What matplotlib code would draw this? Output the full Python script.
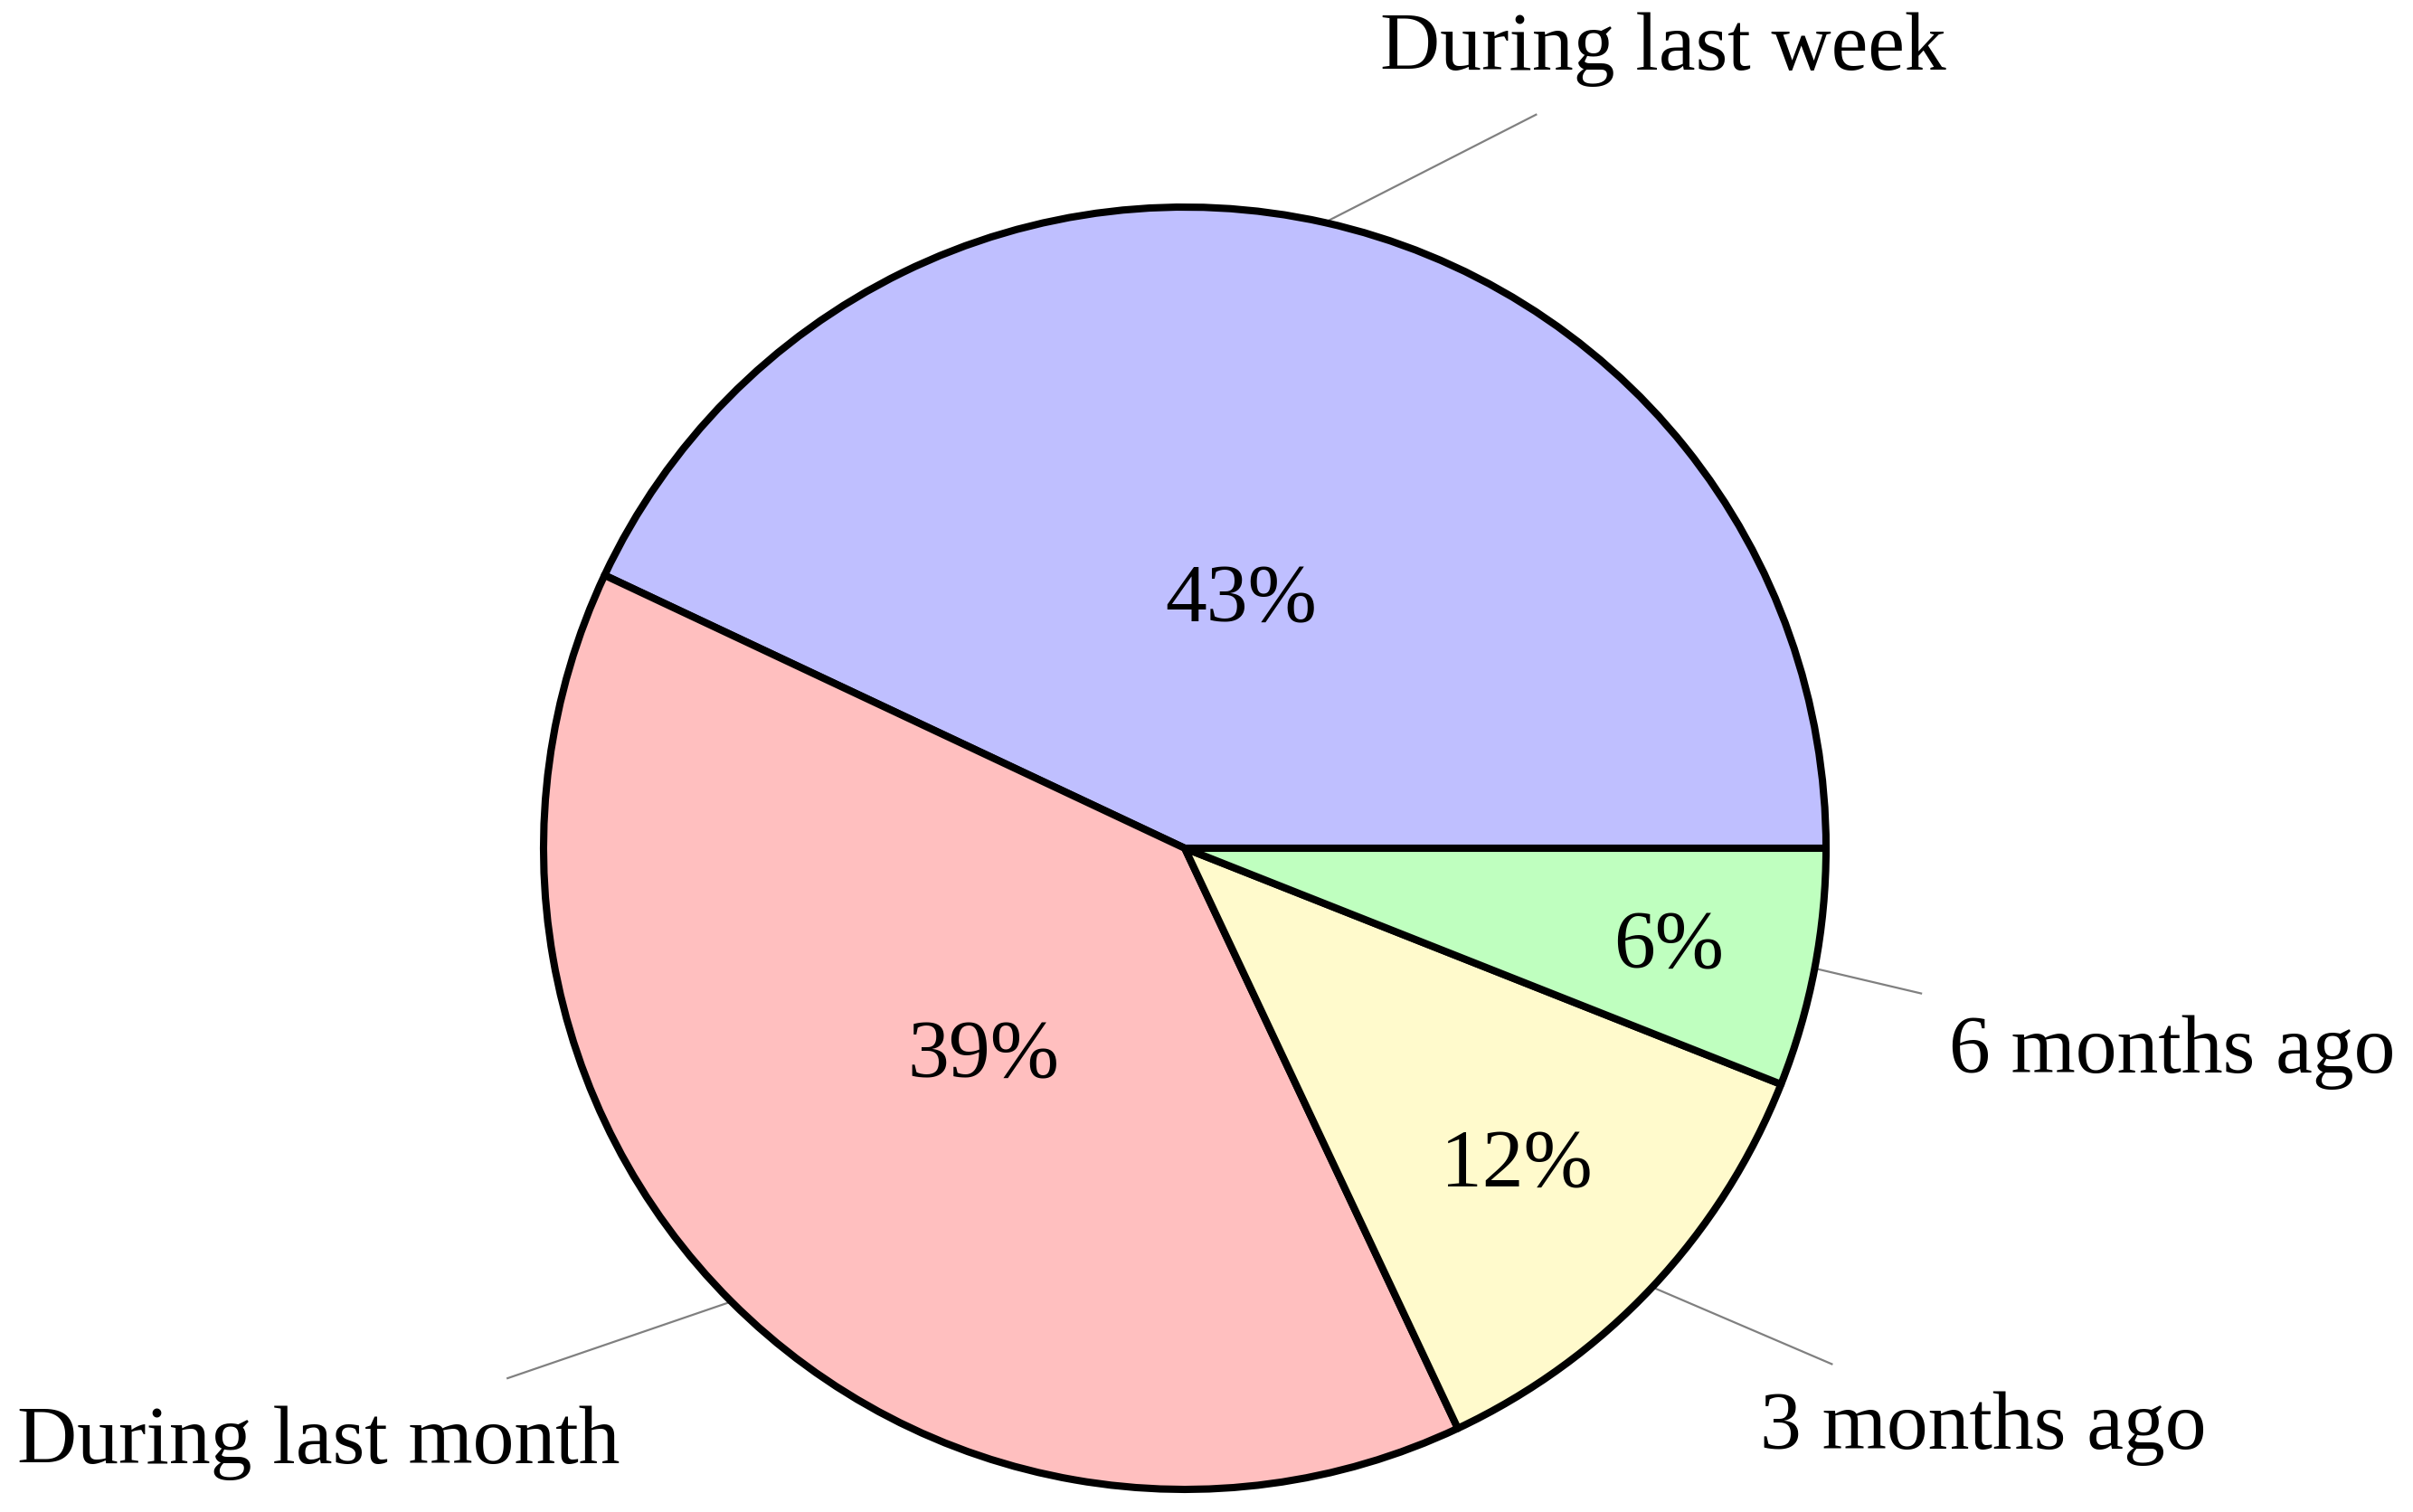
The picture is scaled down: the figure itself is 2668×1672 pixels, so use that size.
import numpy as np
import matplotlib
matplotlib.use("Agg")
import matplotlib.pyplot as plt

# ---- data ----
categories = ["During last week", "During last month", "3 months ago", "6 months ago"]
values = [43, 39, 12, 6]
pct_labels = ["43%", "39%", "12%", "6%"]
colors = ["#BFBFFF", "#FFBFBF", "#FFFACC", "#BFFFBF"]

# label placement (center x, baseline y) in units of pie radius
label_pos = [(0.746, 1.214), (-1.351, -0.959), (1.245, -0.937), (1.540, -0.350)]

W, H, DPI = 2668, 1672, 200
R_PX = 709.0
CX, CY = 1310.0, 938.0
FONT = "Liberation Serif"
FS = 33

fig = plt.figure(figsize=(W / DPI, H / DPI), dpi=DPI)
ax = fig.add_axes([0, 0, 1, 1])

wedges, _ = ax.pie(values, colors=colors, startangle=0, counterclock=True, radius=1,
                   wedgeprops=dict(edgecolor="black", linewidth=2.9, joinstyle="round"))
ax.set_xlim(-CX / R_PX, (W - CX) / R_PX)
ax.set_ylim(-(H - CY) / R_PX, CY / R_PX)
ax.axis("off")

total = float(sum(values))
angles = np.cumsum([0] + [v / total * 360.0 for v in values])
cap_pt = 0.66 * FS

texts = []
for i, (lab, pct) in enumerate(zip(categories, pct_labels)):
    t1, t2 = angles[i], angles[i + 1]
    span = t2 - t1
    mid = np.deg2rad((t1 + t2) / 2)
    rf = 0.8 + min(-(span - 10) * 0.3 / 110.0, 0.0)
    ax.annotate(pct, (rf * np.cos(mid), rf * np.sin(mid)), xytext=(0, -cap_pt / 2),
                textcoords="offset points", ha="center", va="baseline",
                fontsize=FS, family=FONT, color="black")
    lx, ly = label_pos[i]
    t = ax.text(lx, ly, lab, ha="center", va="baseline", fontsize=FS, family=FONT,
                color="black")
    texts.append((t, mid))

fig.canvas.draw()
renderer = fig.canvas.get_renderer()
pad = 30.0
for t, mid in texts:
    bb = t.get_window_extent(renderer)
    cxp, cyp = (bb.x0 + bb.x1) / 2, (bb.y0 + bb.y1) / 2
    hw, hh = bb.width / 2 + pad, bb.height / 2 + pad
    sx, sy = ax.transData.transform((np.cos(mid), np.sin(mid)))
    dx, dy = cxp - sx, cyp - sy
    f = min(hw / abs(dx) if dx else np.inf, hh / abs(dy) if dy else np.inf)
    ex, ey = cxp - f * dx, cyp - f * dy
    (x0, y0), (x1, y1) = ax.transData.inverted().transform([(sx, sy), (ex, ey)])
    ax.plot([x0, x1], [y0, y1], color="#808080", linewidth=0.8, zorder=0.5,
            solid_capstyle="butt")

fig.savefig("out.png", dpi=DPI, facecolor="white")
